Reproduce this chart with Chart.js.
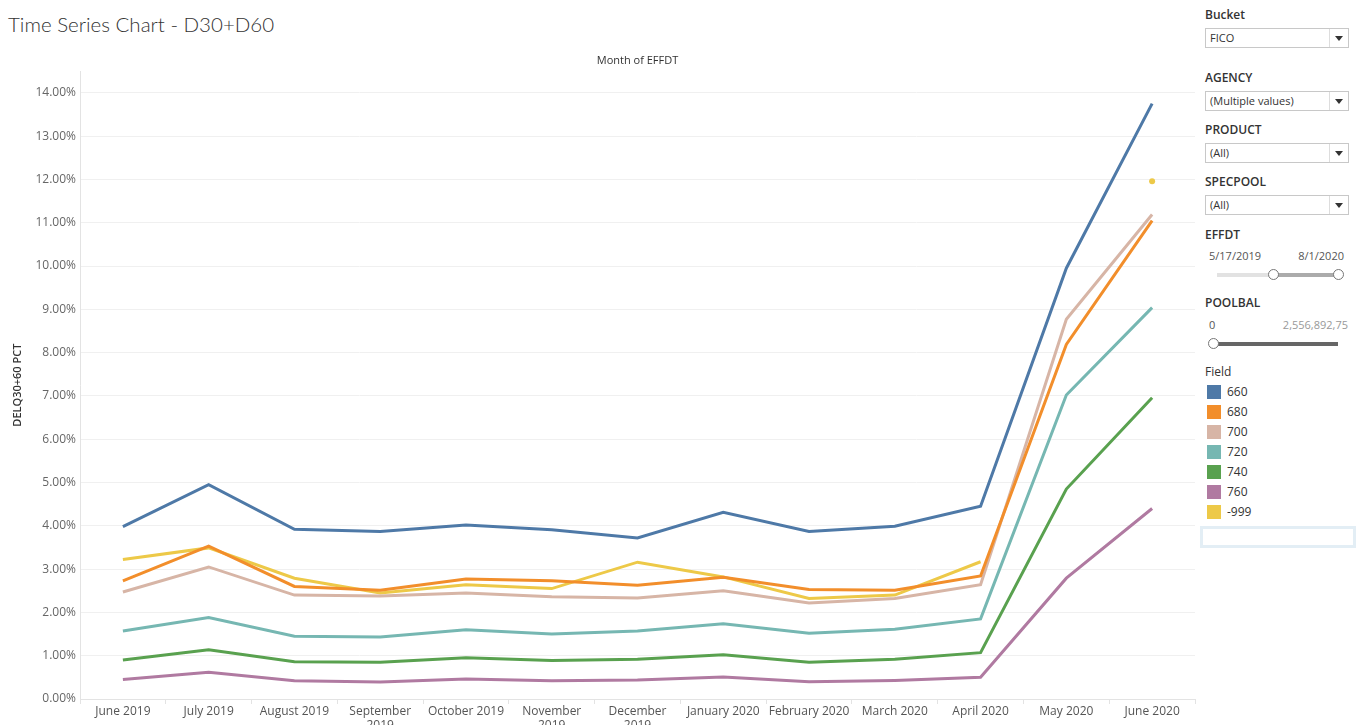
<!DOCTYPE html>
<html>
<head>
<meta charset="utf-8">
<title>Time Series Chart - D30+D60</title>
<script src="https://cdn.jsdelivr.net/npm/chart.js@4.4.0/dist/chart.umd.min.js"></script>
<style>
  body { margin: 0; width: 1361px; height: 725px; overflow: hidden; background: #fff; font-family: "Open Sans", sans-serif; position: relative; }
  #title { position: absolute; left: 8px; top: 12px; font-family: Lato, sans-serif; font-size: 20.5px; font-weight: 300; color: #333; white-space: nowrap; }
  #chartWrap { position: absolute; left: 0; top: 0; width: 1198px; height: 745px; }
  .lbl { position: absolute; left: 1205px; font-size: 12px; line-height: 16px; font-weight: 600; color: #333; }
  .dd { position: absolute; left: 1205px; width: 142px; height: 18px; border: 1px solid #c8c8c8; font-size: 11px; color: #333; line-height: 18px; box-sizing: content-box; }
  .dd span { padding-left: 4px; }
  .dd .arr { position: absolute; right: 0; top: 0; width: 18px; height: 18px; border-left: 1px solid #ddd; }
  .dd .arr:after { content: ''; position: absolute; left: 5px; top: 7px; border-left: 4px solid transparent; border-right: 4px solid transparent; border-top: 5px solid #333; }
  .small { position: absolute; font-size: 11px; line-height: 14px; color: #555; white-space: nowrap; }
  .track { position: absolute; height: 4px; }
  .knob { position: absolute; width: 9px; height: 9px; border: 1px solid #777; border-radius: 50%; background: #fff; }
  .leg { position: absolute; left: 1207px; font-size: 12px; color: #333; line-height: 14px; }
  .leg i { position: absolute; left: 0; top: 0; width: 14px; height: 14px; }
  .leg b { position: absolute; left: 20px; top: 0; font-weight: 400; }
  #emptyBox { position: absolute; left: 1200px; top: 526px; width: 150px; height: 16px; border: 3px solid #e3eef5; }
</style>
</head>
<body>
<div id="title">Time Series Chart - D30+D60</div>
<div id="chartWrap"><canvas id="chart"></canvas></div>

<div class="lbl" style="top:7px">Bucket</div>
<div class="dd" style="top:28px"><span>FICO</span><div class="arr"></div></div>
<div class="lbl" style="top:70px">AGENCY</div>
<div class="dd" style="top:91px"><span>(Multiple values)</span><div class="arr"></div></div>
<div class="lbl" style="top:122px">PRODUCT</div>
<div class="dd" style="top:143px"><span>(All)</span><div class="arr"></div></div>
<div class="lbl" style="top:174px">SPECPOOL</div>
<div class="dd" style="top:195px"><span>(All)</span><div class="arr"></div></div>

<div class="lbl" style="top:227px">EFFDT</div>
<div class="small" style="left:1209px; top:249px">5/17/2019</div>
<div class="small" style="left:1290px; top:249px; width:54px; text-align:right">8/1/2020</div>
<div class="track" style="left:1217px; top:273px; width:56px; background:#e2e2e2"></div>
<div class="track" style="left:1273px; top:273px; width:65px; background:#ababab"></div>
<div class="knob" style="left:1268px; top:269px"></div>
<div class="knob" style="left:1333px; top:269px"></div>

<div class="lbl" style="top:295px">POOLBAL</div>
<div class="small" style="left:1209px; top:318px">0</div>
<div class="small" style="left:1260px; top:318px; width:88px; text-align:right; color:#999">2,556,892,75</div>
<div class="track" style="left:1213px; top:342px; width:125px; background:#666"></div>
<div class="knob" style="left:1208px; top:338px"></div>

<div class="lbl" style="top:364px; font-weight:400">Field</div>
<div id="legend"></div>
<div id="emptyBox"></div>

<script>
const months = ['June 2019', 'July 2019', 'August 2019', ['September', '2019'], 'October 2019',
  ['November', '2019'], ['December', '2019'], 'January 2020', 'February 2020', 'March 2020',
  'April 2020', 'May 2020', 'June 2020'];
const yTicks = [0, 1, 2, 3, 4, 5, 6, 7, 8, 9, 10, 11, 12, 13, 14];

const fields = ['660', '680', '700', '720', '740', '760', '-999'];
const d660 = [3.98, 4.95, 3.92, 3.87, 4.02, 3.91, 3.72, 4.31, 3.87, 3.99, 4.45, 9.95, 13.75];
const d680 = [2.73, 3.53, 2.60, 2.51, 2.77, 2.73, 2.63, 2.81, 2.53, 2.51, 2.84, 8.19, 11.05];
const d700 = [2.47, 3.05, 2.40, 2.38, 2.45, 2.36, 2.33, 2.50, 2.22, 2.32, 2.64, 8.77, 11.19];
const d720 = [1.57, 1.88, 1.45, 1.43, 1.60, 1.50, 1.57, 1.74, 1.52, 1.61, 1.85, 7.02, 9.04];
const d740 = [0.90, 1.14, 0.86, 0.85, 0.95, 0.89, 0.92, 1.02, 0.85, 0.92, 1.07, 4.85, 6.96];
const d760 = [0.45, 0.62, 0.42, 0.39, 0.46, 0.42, 0.44, 0.51, 0.40, 0.43, 0.50, 2.79, 4.40];
const dNeg999 = [3.22, 3.49, 2.79, 2.45, 2.64, 2.55, 3.16, 2.82, 2.32, 2.40, 3.17, null, 11.96];

const fieldColors = ['#4e79a7', '#f28e2b', '#d7b5a6', '#76b7b2', '#59a14f', '#b07aa1', '#edc948'];
const seriesData = [d660, d680, d700, d720, d740, d760, dNeg999];

// legend on the right
const legend = document.getElementById('legend');
fields.forEach((name, i) => {
  const item = document.createElement('div');
  item.className = 'leg';
  item.style.top = (385 + i * 20) + 'px';
  item.innerHTML = `<i style="background:${fieldColors[i]}"></i><b>${name}</b>`;
  legend.appendChild(item);
});

// a point with no neighbours gets a dot, otherwise it is invisible
const isolatedRadius = (ctx) => {
  const d = ctx.dataset.data;
  const i = ctx.dataIndex;
  return (d[i - 1] == null && d[i + 1] == null) ? 3 : 0;
};

new Chart(document.getElementById('chart'), {
  type: 'line',
  data: {
    labels: months,
    datasets: fields.map((name, i) => ({
      label: name,
      data: seriesData[i],
      borderColor: fieldColors[i],
      backgroundColor: fieldColors[i],
      borderWidth: 3,
      tension: 0,
      spanGaps: false,
      pointRadius: isolatedRadius,
      pointBorderWidth: 0,
      pointHoverRadius: 0,
    })),
  },
  options: {
    responsive: true,
    maintainAspectRatio: false,
    animation: false,
    layout: { padding: { left: 0, right: 2, top: 0, bottom: 0 } },
    plugins: {
      legend: { display: false },
      tooltip: { enabled: false },
      title: {
        display: true,
        text: 'Month of EFFDT',
        fullSize: false,
        color: '#333',
        font: { family: 'Open Sans', size: 11, weight: 'normal' },
        padding: { top: 54, bottom: 4 },
      },
    },
    scales: {
      x: {
        offset: true,
        afterFit(scale) { scale.height = 46; },
        grid: { offset: true, drawOnChartArea: false, drawTicks: true, tickLength: 5, color: '#e3e3e3' },
        border: { display: true, color: '#e3e3e3' },
        ticks: {
          color: '#555',
          font: { family: 'Open Sans', size: 12 },
          padding: 0,
          maxRotation: 0,
          autoSkip: false,
        },
      },
      y: {
        min: 0,
        max: 14.5,
        afterFit(scale) { scale.width = 80; },
        afterBuildTicks(scale) { scale.ticks = yTicks.map((v) => ({ value: v })); },
        grid: { color: '#f0f0f0', drawTicks: false },
        border: { display: true, color: '#e3e3e3' },
        ticks: {
          color: '#666',
          padding: 4,
          font: { family: 'Open Sans', size: 12 },
          callback: (v) => v.toFixed(2) + '%',
        },
        title: {
          display: true,
          text: 'DELQ30+60 PCT',
          color: '#333',
          font: { family: 'Open Sans', size: 11, weight: '600' },
          padding: { top: 11, bottom: 0 },
        },
      },
    },
  },
});
</script>
</body>
</html>
